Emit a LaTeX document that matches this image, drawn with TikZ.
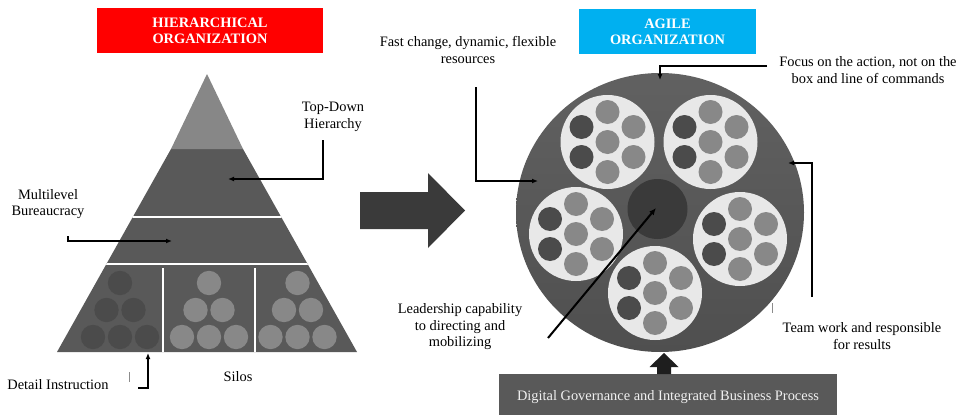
\documentclass[tikz,border=0pt]{standalone}
\usepackage{fontspec}
\setmainfont{Liberation Serif}
\usetikzlibrary{arrows.meta}

\definecolor{pyrlight}{HTML}{878787}
\definecolor{pyrdark}{HTML}{595959}
\definecolor{silodark}{HTML}{4B4B4B}
\definecolor{ballgray}{HTML}{888888}
\definecolor{teambg}{HTML}{E8E8E8}
\definecolor{coredark}{HTML}{3A3A3A}
\definecolor{shiftgray}{HTML}{3A3A3A}
\definecolor{hierred}{HTML}{FF0000}
\definecolor{agileblue}{HTML}{00B0F0}
\definecolor{govgray}{HTML}{595959}
\definecolor{pushdark}{HTML}{1E1E1E}

\tikzset{
  titlebox/.style={inner sep=0pt, text=white, align=center,
    font=\fontsize{14.4}{16}\selectfont\bfseries},
  label/.style={inner sep=0pt, align=center, text=black,
    font=\fontsize{14.4}{16.5}\selectfont},
  conn/.style={draw=black, line width=1.5pt,
    -{Latex[length=6pt,width=5pt]}},
  lead/.style={draw=black, line width=2pt,
    -{Latex[length=7pt,width=6pt]}},
  tick/.style={draw=black!45, line width=0.6pt},
  ball/.style={radius=12.2pt},
  member/.style={radius=12pt},
}

% one team: light disc with seven members, the two on the left darker
\newcommand{\teamdisc}[2]{%
  \fill[teambg] (#1,#2) circle[radius=47pt];
  \fill[ballgray] (#1,#2) circle[member];
  \fill[ballgray] (#1,#2) ++(0,-30) circle[member];
  \fill[ballgray] (#1,#2) ++(26,-15) circle[member];
  \fill[ballgray] (#1,#2) ++(26,15) circle[member];
  \fill[ballgray] (#1,#2) ++(0,30) circle[member];
  \fill[silodark] (#1,#2) ++(-26,-15) circle[member];
  \fill[silodark] (#1,#2) ++(-26,15) circle[member];
}

% one silo: six balls stacked in a triangle
\newcommand{\silo}[2]{%
  \fill[#2] (#1,283) circle[ball];
  \fill[#2] (#1-13.5,310) circle[ball];
  \fill[#2] (#1+13.5,310) circle[ball];
  \fill[#2] (#1-27,337) circle[ball];
  \fill[#2] (#1,337) circle[ball];
  \fill[#2] (#1+27,337) circle[ball];
}

\begin{document}
\begin{tikzpicture}[x=1pt,y=-1pt]
\useasboundingbox (0,0) rectangle (962,415);
\fill[white] (0,0) rectangle (962,415);

% ---------- headings ----------
\node[titlebox, fill=hierred, minimum width=226pt, minimum height=45pt]
  (hier) at (210,30.5) {HIERARCHICAL\\ORGANIZATION};
\node[titlebox, fill=agileblue, minimum width=177pt, minimum height=45pt]
  (agile) at (667.5,31.5) {AGILE\\ORGANIZATION};

% ---------- pyramid ----------
\fill[pyrdark] (171,149) -- (243,149) -- (357,352) -- (57,352) -- cycle;
\fill[pyrlight] (207,74) -- (243,149) -- (171,149) -- cycle;
\begin{scope}
  \clip (171,149) -- (243,149) -- (357,352) -- (57,352) -- cycle;
  \draw[white, line width=2.6pt] (40,217) -- (380,217);
  \draw[white, line width=2.6pt] (40,264) -- (380,264);
\end{scope}
\draw[white, line width=2.6pt] (163,268) -- (163,352);
\draw[white, line width=2.6pt] (255,268) -- (255,352);
\silo{120}{silodark}
\silo{209}{ballgray}
\silo{297.5}{ballgray}

% ---------- transition arrow ----------
\fill[shiftgray] (360,192) -- (428,192) -- (428,173) -- (465,210.5)
  -- (428,248) -- (428,229) -- (360,229) -- cycle;

% ---------- agile organisation ----------
\shade[top color=black!62, bottom color=black!69]
  (660,212.5) ellipse[x radius=144pt, y radius=139.5pt];
\fill[coredark] (657.5,209) circle[radius=30pt];
\teamdisc{607.5}{142}
\teamdisc{710.5}{142}
\teamdisc{576}{234}
\teamdisc{740}{239}
\teamdisc{655}{293}

% governance base and the push arrow
\node[inner sep=0pt, fill=govgray, minimum width=338pt, minimum height=46pt,
  text=white!94!black, font=\fontsize{14.4}{16.5}\selectfont]
  (gov) at (668,397) {Digital Governance and Integrated Business Process};
\fill[pushdark] (657,374) -- (657,367) -- (649.5,367) -- (664,353)
  -- (678.5,367) -- (671,367) -- (671,374) -- cycle;

% ---------- labels ----------
\node[label] (topdown) at (333,117) {Top-Down\\Hierarchy};
\node[label] (multi) at (48,204) {Multilevel\\Bureaucracy};
\node[label] (detail) at (58,385) {Detail Instruction};
\node[label] (silos) at (238,377) {Silos};
\node[label] (fast) at (468,50) {Fast change, dynamic, flexible\\resources};
\node[label] (focus) at (868,70) {Focus on the action, not on the\\box and line of commands};
\node[label] (team) at (862,336) {Team work and responsible\\for results};
\node[label] (leader) at (460,327) {Leadership capability\\to directing and\\mobilizing};

% ---------- connector ends ----------
\coordinate (tdS) at (323,140);   \coordinate (tdT) at (228,179);
\coordinate (mbS) at (68,236);    \coordinate (mbT) at (172,241);
\coordinate (diS) at (138,388);   \coordinate (diT) at (148,353);
\coordinate (fcS) at (476,87);    \coordinate (fcT) at (538,181);
\coordinate (foS) at (767,66);    \coordinate (foT) at (660,80);
\coordinate (twS) at (812,297);   \coordinate (twT) at (788,163);
\coordinate (ldS) at (548,338);   \coordinate (ldT) at (656,208);

\draw[conn] (tdS) |- (tdT);
\draw[conn] (mbS) |- (mbT);
\draw[conn] (diS) -| (diT);
\draw[conn] (fcS) |- (fcT);
\draw[conn] (foS) -| (foT);
\draw[conn] (twS) |- (twT);
\draw[lead] (ldS) -- (ldT);

% faint stray ticks
\draw[tick] (129,372) -- (129,382);
\draw[tick] (772,303) -- (772,313);
\end{tikzpicture}
\end{document}
